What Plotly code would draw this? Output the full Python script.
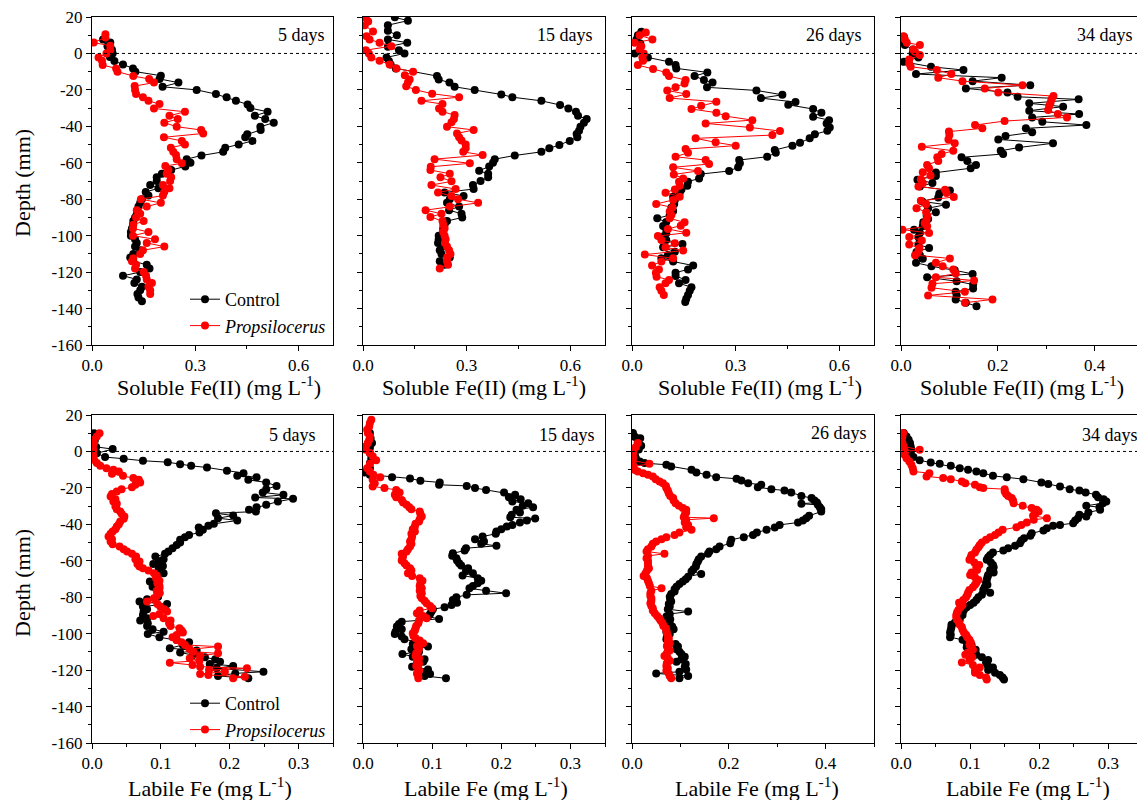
import plotly.graph_objects as go

FONT = "Liberation Serif"
W, H = 1137, 800

# ---------------- data: soluble Fe(II) (top row) ----------------
sol5_ctrl_depth = [7.7, 6, 4, 2, 0, -2, -4.2, -6, -8.2, -10, -12.2, -14, -16, -18.3, -20, -22.3, -24.1, -26, -28, -30, -32, -34.2, -36, -38, -40.2, -42, -44.4, -46, -48, -50, -51.7, -54, -56, -58, -60, -62, -64, -66, -68, -70, -72.2, -74, -76, -78, -80, -82, -84, -86, -88, -90, -92, -94, -96, -98, -100, -102, -104, -106, -108, -110, -112, -114, -116, -118, -120, -122, -124, -126, -128, -130, -132, -134, -136]
sol5_ctrl = [0.032, 0.053, 0.045, 0.058, 0.06, 0.052, 0.065, 0.09, 0.119, 0.126, 0.2, 0.196, 0.251, 0.205, 0.304, 0.36, 0.391, 0.418, 0.452, 0.46, 0.51, 0.473, 0.503, 0.528, 0.489, 0.49, 0.451, 0.445, 0.466, 0.426, 0.387, 0.381, 0.318, 0.275, 0.286, 0.271, 0.23, 0.203, 0.188, 0.188, 0.169, 0.193, 0.156, 0.164, 0.145, 0.14, 0.135, 0.132, 0.13, 0.125, 0.12, 0.119, 0.116, 0.113, 0.113, 0.125, 0.13, 0.125, 0.14, 0.12, 0.111, 0.12, 0.159, 0.167, 0.14, 0.09, 0.13, 0.123, 0.145, 0.14, 0.132, 0.135, 0.145]
sol5_prop_depth = [10.6, 8.8, 6, 4.2, 1.8, 0, -2.2, -4, -6.4, -8.2, -10, -12.4, -14, -16, -17.9, -20, -22.3, -24, -26, -27.8, -30.2, -32, -34.2, -36, -38, -40.2, -42, -43.9, -46, -48, -50, -51.7, -54, -55.8, -58, -60.3, -61.8, -64, -66, -68, -70, -72.2, -74, -76, -78, -80, -82, -84, -86, -88, -90, -92, -94, -96, -98, -100, -102, -104, -106, -108, -110, -112.4, -114, -116, -118, -120, -122, -124, -126, -128, -130, -132]
sol5_prop = [0.039, 0.039, 0.005, 0.053, 0.053, 0.042, 0.019, 0.029, 0.031, 0.07, 0.074, 0.12, 0.166, 0.18, 0.124, 0.125, 0.128, 0.148, 0.164, 0.196, 0.18, 0.27, 0.225, 0.249, 0.21, 0.246, 0.317, 0.323, 0.209, 0.261, 0.27, 0.229, 0.236, 0.244, 0.246, 0.261, 0.213, 0.222, 0.217, 0.23, 0.227, 0.206, 0.225, 0.21, 0.206, 0.142, 0.2, 0.159, 0.13, 0.14, 0.128, 0.15, 0.12, 0.119, 0.164, 0.119, 0.183, 0.159, 0.21, 0.148, 0.14, 0.12, 0.116, 0.128, 0.125, 0.15, 0.157, 0.159, 0.174, 0.164, 0.169, 0.169]

sol15_ctrl_depth = [19.8, 18, 15.5, 12.4, 10, 7.7, 5.9, 3.7, 1.8, 0, -2.2, -4.2, -6, -8.2, -12.4, -14.3, -16, -18.3, -20, -22.5, -24, -26, -28.3, -30.2, -32, -34.2, -36, -38, -40.2, -42.4, -44.2, -46, -48, -50.3, -52, -54, -56, -58, -60, -62, -64.4, -66, -68, -70, -72.2, -74.4, -76.3, -78.2, -80, -82, -84, -86, -88, -90, -92, -94, -96, -98, -100, -102, -104, -106, -108, -110, -112, -114, -116]
sol15_ctrl = [0.092, 0.13, 0.072, 0.072, 0.098, 0.072, 0.128, 0.072, 0.104, 0.12, 0.068, 0.075, 0.08, 0.095, 0.214, 0.219, 0.25, 0.265, 0.323, 0.4, 0.432, 0.516, 0.57, 0.594, 0.616, 0.622, 0.647, 0.639, 0.629, 0.625, 0.618, 0.62, 0.598, 0.568, 0.539, 0.516, 0.439, 0.381, 0.376, 0.365, 0.336, 0.362, 0.362, 0.34, 0.318, 0.32, 0.236, 0.291, 0.251, 0.243, 0.278, 0.249, 0.285, 0.287, 0.243, 0.236, 0.232, 0.232, 0.219, 0.219, 0.217, 0.232, 0.222, 0.227, 0.251, 0.222, 0.236]
sol15_prop_depth = [19.7, 17.5, 15.5, 12, 9.5, 7.7, 5.9, 4, 1.8, 0, -2.2, -4, -6, -8.2, -10, -11.9, -14.3, -16, -18, -20, -22.1, -24, -26, -27.8, -30.2, -32, -33.8, -36, -37.8, -40.2, -42, -43.9, -46, -47.8, -50, -52, -54, -55.8, -58, -60.3, -62.2, -64, -66, -68, -70.2, -72.2, -74.4, -76.3, -78.2, -80, -82, -84, -86, -88, -89.7, -92, -94, -96, -98, -100, -102, -104, -106, -108, -110, -112, -114, -116, -118]
sol15_prop = [0.008, 0.015, 0.005, 0.029, 0.01, 0.019, 0.048, 0.082, 0.008, 0.017, 0.024, 0.048, 0.077, 0.097, 0.145, 0.121, 0.135, 0.13, 0.125, 0.153, 0.2, 0.278, 0.169, 0.23, 0.22, 0.23, 0.265, 0.263, 0.256, 0.243, 0.32, 0.272, 0.278, 0.285, 0.297, 0.297, 0.29, 0.346, 0.207, 0.309, 0.196, 0.195, 0.251, 0.224, 0.256, 0.198, 0.268, 0.217, 0.256, 0.275, 0.333, 0.251, 0.181, 0.227, 0.195, 0.23, 0.232, 0.236, 0.232, 0.236, 0.239, 0.237, 0.243, 0.249, 0.253, 0.243, 0.243, 0.246, 0.222]

sol26_ctrl_depth = [11.9, 10, 7.7, 5.5, 0, -2.2, -4.6, -6.4, -8.2, -10.4, -12.4, -14.6, -16, -18.6, -20.3, -22.7, -24.5, -26.7, -28.2, -30.5, -32.5, -34.7, -36.6, -38.4, -40.6, -42.4, -44.4, -46.6, -49, -50.6, -53, -54.5, -56.7, -58.5, -60.3, -62.5, -64.5, -66.2, -68.6, -70.4, -72.6, -74.6, -76.4, -78.6, -80.4, -82.6, -84.5, -86.5, -88.7, -90.5, -92.5, -94.7, -96.5, -98.7, -100.5, -102.4, -104.6, -106.4, -108.8, -110.6, -112.4, -114.2, -116.4, -118.5, -120.3, -122.1, -124.3, -126.1, -128.3, -130.2, -132.5, -134.6, -136.4]
sol26_ctrl = [0.027, 0.017, 0.013, 0.024, 0.008, 0.046, 0.107, 0.126, 0.128, 0.218, 0.181, 0.208, 0.233, 0.217, 0.36, 0.435, 0.373, 0.473, 0.452, 0.524, 0.548, 0.524, 0.57, 0.563, 0.572, 0.565, 0.529, 0.514, 0.486, 0.464, 0.413, 0.416, 0.391, 0.31, 0.312, 0.307, 0.281, 0.199, 0.194, 0.162, 0.16, 0.143, 0.138, 0.119, 0.124, 0.122, 0.114, 0.119, 0.109, 0.073, 0.099, 0.09, 0.099, 0.099, 0.09, 0.099, 0.146, 0.09, 0.124, 0.104, 0.085, 0.119, 0.177, 0.162, 0.126, 0.126, 0.155, 0.136, 0.172, 0.167, 0.162, 0.157, 0.154]
sol26_prop_depth = [11.5, 10, 7.7, 5.9, 4, 2.2, 0, -2.2, -4, -6.4, -8.5, -10.5, -12.4, -14.6, -16.5, -18.6, -20.3, -22.3, -24.5, -26.5, -28.7, -30.5, -32.5, -34.4, -36.6, -38.4, -40.6, -42.6, -44.8, -46.6, -48.8, -50.6, -52.5, -54.5, -56.7, -58.5, -60.7, -62.5, -64.5, -66.4, -68.6, -70.4, -72.6, -74.6, -76.4, -78.6, -80.4, -82.6, -84.5, -86.8, -88.7, -90.5, -92.7, -94.5, -96.3, -98.4, -100.2, -102.4, -104.2, -106.4, -108.2, -110.4, -112.4, -114.2, -116.4, -118.5, -120.3, -122.5, -124.3, -126.1, -128.3, -130.2, -132.5]
sol26_prop = [0.04, 0.022, 0.059, 0.008, 0.027, 0.022, 0.034, 0.03, 0.032, 0.017, 0.061, 0.099, 0.107, 0.155, 0.152, 0.126, 0.102, 0.157, 0.109, 0.244, 0.2, 0.172, 0.244, 0.271, 0.348, 0.213, 0.341, 0.428, 0.406, 0.184, 0.242, 0.3, 0.155, 0.162, 0.126, 0.213, 0.223, 0.119, 0.191, 0.121, 0.148, 0.136, 0.138, 0.124, 0.097, 0.138, 0.119, 0.07, 0.117, 0.109, 0.114, 0.109, 0.152, 0.141, 0.104, 0.157, 0.075, 0.085, 0.124, 0.097, 0.148, 0.037, 0.119, 0.085, 0.058, 0.078, 0.069, 0.071, 0.107, 0.097, 0.08, 0.085, 0.092]

sol34_ctrl_depth = [9.1, 6.9, 4.6, 2.2, 0, -2.2, -4.6, -7.3, -9.1, -11.3, -13.3, -15.2, -17.4, -19.2, -21.4, -23.8, -25.2, -27.4, -29.2, -31.4, -33.3, -35.1, -37.5, -39.3, -41.1, -43.3, -45.3, -47.2, -49.3, -51.6, -53.4, -55.2, -57, -59, -61.2, -63, -65.4, -67.2, -69.3, -71.1, -73, -75.2, -77, -79, -81.2, -83, -84.9, -87.1, -89.1, -90.9, -92.7, -94.9, -96.7, -98.5, -100.7, -102.6, -104.9, -106.7, -108.9, -110.7, -112.7, -114.9, -116.8, -119, -121, -122.8, -125, -126.8, -129, -130.8, -132.8, -135, -136.8, -138.7]
sol34_ctrl = [0.006, 0.005, 0.008, 0.025, 0.024, 0.036, 0.006, 0.062, 0.129, 0.031, 0.208, 0.148, 0.267, 0.134, 0.22, 0.241, 0.367, 0.265, 0.335, 0.265, 0.368, 0.271, 0.292, 0.383, 0.258, 0.271, 0.216, 0.201, 0.314, 0.244, 0.206, 0.211, 0.125, 0.137, 0.155, 0.144, 0.072, 0.072, 0.034, 0.065, 0.039, 0.101, 0.079, 0.077, 0.044, 0.093, 0.056, 0.072, 0.053, 0.056, 0.046, 0.045, 0.027, 0.039, 0.036, 0.039, 0.036, 0.058, 0.032, 0.039, 0.045, 0.031, 0.063, 0.111, 0.148, 0.054, 0.115, 0.149, 0.149, 0.113, 0.115, 0.113, 0.134, 0.156]
sol34_prop_depth = [9.5, 7.7, 5.9, 4.6, 2.2, 0.9, -0.9, -3.3, -5.5, -7.3, -9.1, -11.3, -13.3, -15.2, -17.4, -19.2, -21.4, -23.4, -25.2, -27, -28.9, -31.1, -33.3, -35.1, -37.1, -39.3, -41.1, -42.9, -44.8, -47.2, -49.3, -51.2, -53.4, -55.2, -57, -59, -61.2, -63, -65.2, -67, -69, -71.1, -73, -74.8, -76.6, -78.8, -80.9, -82.7, -84.9, -87.1, -89.1, -91.3, -93.1, -94.9, -96.7, -98.5, -100.7, -102.6, -104.9, -106.7, -108.5, -110.7, -112.5, -114.9, -116.8, -118.6, -120.8, -122.8, -124.6, -126.4, -128.6, -130.8, -132.8, -135, -136.8]
sol34_prop = [0.005, 0.008, 0.012, 0.039, 0.025, 0.029, 0.039, 0.017, 0.017, 0.02, 0.074, 0.104, 0.077, 0.127, 0.251, 0.173, 0.201, 0.315, 0.311, 0.309, 0.306, 0.304, 0.324, 0.343, 0.214, 0.153, 0.168, 0.099, 0.1, 0.098, 0.111, 0.043, 0.108, 0.084, 0.075, 0.077, 0.054, 0.058, 0.045, 0.061, 0.041, 0.045, 0.036, 0.091, 0.094, 0.109, 0.041, 0.052, 0.032, 0.052, 0.054, 0.053, 0.049, 0.054, 0.003, 0.058, 0.017, 0.043, 0.017, 0.038, 0.036, 0.029, 0.101, 0.072, 0.086, 0.108, 0.113, 0.072, 0.151, 0.065, 0.063, 0.132, 0.056, 0.189, 0.132]

# ---------------- data: labile Fe (bottom row) ----------------
lab5_ctrl_depth = [10, 8, 6, 4, 2.5, 1.3, -1, -3.1, -4, -5.1, -5.9, -7, -7.9, -8.8, -10.6, -11.9, -13.4, -14.1, -15.6, -17, -18.9, -20.7, -22.5, -23.8, -25.3, -26, -27.5, -29.3, -30.6, -32, -33, -33.9, -35.2, -36.6, -37.9, -39.7, -40.8, -41.7, -43, -44.5, -45.8, -47.1, -48.5, -50, -51.3, -53.1, -54.9, -56.2, -57.7, -59.1, -60.4, -61.7, -62.8, -64.1, -65.4, -66.8, -68.7, -71.4, -72.7, -74.2, -75.6, -77.5, -79.7, -81.1, -82.4, -83.7, -85.1, -86.6, -87.9, -89.7, -91.6, -92.8, -94.3, -95.8, -97.6, -98.9, -100.2, -102, -103.5, -104.7, -106.2, -108, -109.3, -110.4, -111.7, -113, -114.1, -115.4, -116.6, -117.7, -119, -120.9, -121.8, -123.2, -124.5]
lab5_ctrl = [0.003, 0.002, 0.004, 0.002, 0.006, 0.03, 0.007, 0.019, 0.046, 0.074, 0.11, 0.128, 0.144, 0.167, 0.196, 0.22, 0.211, 0.239, 0.227, 0.253, 0.268, 0.253, 0.248, 0.278, 0.237, 0.292, 0.27, 0.253, 0.239, 0.228, 0.238, 0.18, 0.205, 0.183, 0.211, 0.177, 0.169, 0.155, 0.161, 0.156, 0.141, 0.135, 0.128, 0.128, 0.123, 0.117, 0.111, 0.106, 0.092, 0.104, 0.097, 0.089, 0.103, 0.097, 0.1, 0.104, 0.094, 0.084, 0.094, 0.088, 0.094, 0.098, 0.096, 0.08, 0.069, 0.109, 0.074, 0.08, 0.075, 0.074, 0.08, 0.07, 0.081, 0.08, 0.088, 0.104, 0.081, 0.098, 0.123, 0.141, 0.132, 0.113, 0.152, 0.128, 0.147, 0.164, 0.179, 0.186, 0.171, 0.205, 0.181, 0.249, 0.208, 0.183, 0.227]
lab5_prop_depth = [10, 8.2, 6.4, 4.6, 2.7, 0.9, -0.9, -2.7, -4.6, -6.4, -7.9, -9.2, -10.1, -11, -12.3, -13.4, -14.6, -15.6, -17, -18.3, -19.6, -20.7, -22, -23.4, -24.7, -26.2, -27.5, -28.7, -30.2, -31.7, -33, -34.2, -35.7, -37, -38.5, -39.9, -41.2, -42.7, -43.9, -45.2, -46.7, -48.2, -49.4, -50.9, -52.2, -53.7, -54.9, -56.2, -57.7, -59.1, -60.4, -61.7, -63.2, -64.1, -65.4, -66.8, -68.1, -69.6, -70.9, -72.3, -73.8, -75.1, -76.4, -77.8, -79.3, -80.6, -82.4, -83.7, -85.1, -86.6, -87.9, -89.2, -90.3, -91.6, -92.8, -94.3, -95.8, -97, -98.3, -99.4, -100.7, -102, -103.5, -104.7, -106.2, -107.1, -108.6, -109.9, -110.8, -112.2, -113.5, -114.8, -115.9, -117.2, -118.1, -119, -120, -120.9, -122.1, -122.7, -123.6, -124.5]
lab5_prop = [0.011, 0.007, 0.002, 0.003, 0.001, 0.002, 0.001, 0.002, 0.003, 0.007, 0.012, 0.021, 0.031, 0.039, 0.029, 0.045, 0.06, 0.068, 0.07, 0.063, 0.058, 0.043, 0.036, 0.029, 0.027, 0.034, 0.031, 0.036, 0.034, 0.036, 0.041, 0.043, 0.047, 0.046, 0.041, 0.039, 0.036, 0.034, 0.03, 0.027, 0.024, 0.029, 0.027, 0.03, 0.04, 0.046, 0.051, 0.058, 0.064, 0.063, 0.069, 0.066, 0.069, 0.074, 0.082, 0.09, 0.094, 0.093, 0.098, 0.095, 0.098, 0.098, 0.094, 0.098, 0.094, 0.09, 0.08, 0.095, 0.099, 0.105, 0.109, 0.098, 0.089, 0.104, 0.114, 0.112, 0.114, 0.127, 0.13, 0.132, 0.123, 0.117, 0.123, 0.13, 0.135, 0.183, 0.142, 0.147, 0.183, 0.157, 0.142, 0.156, 0.113, 0.146, 0.157, 0.225, 0.17, 0.193, 0.157, 0.169, 0.222, 0.205]

lab15_ctrl_depth = [10.1, 7.3, 4.6, 2, -0.9, -3.7, -6.4, -9.2, -11.5, -12.8, -14.1, -14.8, -16.1, -17, -18.3, -18.9, -20.1, -21.1, -22.5, -23.8, -25.1, -26.2, -27.5, -28.4, -29.8, -30.6, -32, -33.5, -34.8, -36.1, -36.8, -37.9, -39, -40.3, -41.2, -42.7, -43.9, -45.2, -46.7, -48.2, -49.4, -50.7, -51.8, -53.1, -54.4, -55.9, -57.3, -58.6, -59.9, -61.3, -62.6, -64.1, -65.4, -66.8, -68.1, -69.6, -70.9, -72.3, -73.8, -75.1, -76.4, -77.8, -78.7, -80, -81.5, -83, -84.2, -85.5, -86.6, -87.9, -89.2, -90.6, -91.9, -93.4, -94.7, -96.1, -97.6, -98.9, -100.2, -101.6, -103.1, -104.4, -105.7, -107.1, -108.6, -109.9, -111.2, -112.6, -114.1, -115.4, -116.6, -118.1, -119.6, -120.9, -122.1, -123.2, -124.5]
lab15_ctrl = [0.01, 0.011, 0.013, 0.01, 0.01, 0.012, 0.01, 0.01, 0.002, 0.01, 0.042, 0.068, 0.083, 0.111, 0.11, 0.15, 0.162, 0.178, 0.204, 0.22, 0.211, 0.228, 0.216, 0.239, 0.231, 0.246, 0.222, 0.227, 0.215, 0.213, 0.249, 0.237, 0.227, 0.216, 0.208, 0.2, 0.193, 0.192, 0.173, 0.162, 0.175, 0.171, 0.193, 0.149, 0.147, 0.13, 0.129, 0.135, 0.136, 0.139, 0.142, 0.152, 0.149, 0.159, 0.144, 0.166, 0.171, 0.166, 0.159, 0.154, 0.178, 0.207, 0.15, 0.135, 0.13, 0.136, 0.128, 0.118, 0.101, 0.099, 0.097, 0.094, 0.11, 0.056, 0.052, 0.049, 0.056, 0.047, 0.046, 0.056, 0.06, 0.076, 0.072, 0.094, 0.07, 0.081, 0.057, 0.072, 0.089, 0.087, 0.078, 0.071, 0.094, 0.092, 0.097, 0.089, 0.12]
lab15_prop_depth = [17.4, 15.6, 13.7, 11.9, 10.1, 8.2, 6.4, 4.6, 2.7, 0.9, -0.9, -2.7, -4.9, -6.8, -9.2, -11, -12.8, -14.1, -15.6, -17.4, -19.2, -20.1, -21.1, -22.5, -23.8, -25.1, -26.6, -28, -29.3, -30.6, -31.7, -33, -34.2, -35.7, -37.2, -38.5, -39.7, -41.2, -42.7, -43.9, -45.2, -46.7, -48.2, -49.4, -50.7, -52.2, -53.7, -54.9, -56.2, -57.3, -58.6, -59.9, -61.3, -62.6, -64.1, -65.4, -66.8, -68.3, -69.6, -71, -72.3, -73.8, -75.1, -76.4, -77.8, -79.3, -80.6, -81.9, -83.3, -84.8, -86.1, -87.3, -88.8, -90.3, -91.6, -92.8, -94.3, -95.8, -97, -98.3, -99.8, -101.3, -102.5, -103.8, -105.3, -106.8, -108, -109.3, -110.8, -112.2, -113.5, -114.8, -116.3, -117.7, -119, -120.3, -121.8, -123.2, -124.5]
lab15_prop = [0.012, 0.01, 0.009, 0.006, 0.007, 0.01, 0.009, 0.007, 0.004, 0.004, 0.01, 0.014, 0.019, 0.01, 0.006, 0.01, 0.015, 0.025, 0.014, 0.017, 0.014, 0.031, 0.048, 0.053, 0.046, 0.048, 0.056, 0.058, 0.063, 0.067, 0.07, 0.082, 0.083, 0.085, 0.082, 0.081, 0.076, 0.075, 0.072, 0.075, 0.07, 0.071, 0.07, 0.068, 0.07, 0.068, 0.065, 0.063, 0.056, 0.058, 0.057, 0.056, 0.06, 0.063, 0.068, 0.07, 0.065, 0.071, 0.082, 0.086, 0.083, 0.082, 0.085, 0.082, 0.085, 0.083, 0.085, 0.089, 0.092, 0.097, 0.1, 0.082, 0.078, 0.087, 0.092, 0.081, 0.08, 0.077, 0.076, 0.075, 0.072, 0.073, 0.076, 0.082, 0.087, 0.078, 0.081, 0.08, 0.077, 0.076, 0.081, 0.078, 0.081, 0.077, 0.08, 0.081, 0.078, 0.08, 0.08]

lab26_ctrl_depth = [10.1, 8, 7.3, 5, 3.1, 1, 0, -2, -3.7, -5.5, -6.4, -7.3, -8.2, -10.1, -11.5, -12.8, -14.1, -15, -15.9, -17.4, -18.3, -19.6, -20.7, -21.4, -22.5, -24.4, -25.6, -26.9, -28, -28.7, -29.3, -30.6, -31.7, -33, -35.3, -36.6, -37.9, -39, -40.3, -41.7, -43, -44.5, -45.8, -47.1, -48.5, -50.4, -52.2, -53.7, -54.9, -56.2, -57.7, -59.1, -60.4, -61.7, -63.2, -64.6, -65.9, -67.2, -68.7, -70.1, -71.4, -72.7, -74.2, -75.6, -76.9, -78.2, -79.7, -81.1, -82.4, -83.7, -85.1, -86.6, -87.9, -89.2, -90.6, -92.1, -93.4, -94.7, -96.1, -97.6, -98.9, -100.2, -101.6, -103.1, -104.4, -105.7, -107.1, -108.6, -109.9, -111.2, -112.6, -114.1, -115.4, -116.6, -118.1, -119.6, -120.9, -121.8, -123.2, -124.5]
lab26_ctrl = [0.002, 0.006, 0.017, 0.012, 0.019, 0.014, 0.004, 0.006, 0.008, 0.016, 0.026, 0.071, 0.081, 0.123, 0.133, 0.154, 0.174, 0.216, 0.226, 0.24, 0.267, 0.26, 0.288, 0.315, 0.329, 0.35, 0.371, 0.377, 0.382, 0.35, 0.384, 0.388, 0.391, 0.391, 0.366, 0.36, 0.353, 0.343, 0.305, 0.295, 0.278, 0.258, 0.25, 0.231, 0.205, 0.203, 0.181, 0.174, 0.16, 0.157, 0.143, 0.138, 0.136, 0.133, 0.132, 0.127, 0.123, 0.143, 0.116, 0.111, 0.105, 0.098, 0.092, 0.088, 0.088, 0.081, 0.078, 0.079, 0.081, 0.076, 0.078, 0.074, 0.116, 0.078, 0.071, 0.079, 0.076, 0.078, 0.083, 0.086, 0.071, 0.078, 0.072, 0.071, 0.076, 0.09, 0.095, 0.092, 0.098, 0.102, 0.109, 0.102, 0.092, 0.111, 0.109, 0.112, 0.098, 0.05, 0.116, 0.098]
lab26_prop_depth = [4.6, 2.5, 0.9, -1, -3, -5, -6.8, -8.2, -10.1, -11, -11.9, -12.8, -13.7, -15.2, -16.5, -17.4, -18.9, -20.1, -21.4, -22.9, -24.4, -25.6, -26.9, -28.4, -29.8, -31.1, -32, -33.5, -34.8, -36.1, -36.6, -37.5, -39, -40.3, -41.6, -43, -44.5, -45.8, -47.1, -48.2, -49.4, -50.7, -52.2, -53.7, -54.9, -56.2, -57.3, -58.6, -59.9, -61.3, -62.8, -64.1, -65.4, -66.8, -68.3, -69.6, -70.9, -72.3, -73.8, -75.1, -76.4, -77.8, -79.3, -80.6, -81.9, -83.3, -84.8, -86.1, -87.3, -88.8, -90.3, -91.6, -92.8, -94.3, -95.8, -97, -98.3, -99.8, -101.3, -102.5, -103.8, -105.3, -106.8, -108, -109.3, -110.8, -112.2, -113.5, -114.8, -116.3, -117.7, -119, -120.3, -121.8, -123.2, -124.5]
lab26_prop = [0.012, 0.008, 0.003, 0.002, 0.002, 0.002, 0.036, 0.003, 0.006, 0.012, 0.023, 0.033, 0.043, 0.049, 0.057, 0.064, 0.07, 0.071, 0.074, 0.076, 0.079, 0.085, 0.086, 0.09, 0.097, 0.105, 0.112, 0.112, 0.109, 0.107, 0.169, 0.112, 0.109, 0.116, 0.112, 0.123, 0.098, 0.088, 0.071, 0.061, 0.05, 0.043, 0.04, 0.033, 0.03, 0.067, 0.033, 0.03, 0.033, 0.033, 0.033, 0.035, 0.031, 0.028, 0.024, 0.031, 0.033, 0.035, 0.037, 0.061, 0.04, 0.038, 0.038, 0.04, 0.04, 0.038, 0.04, 0.043, 0.043, 0.047, 0.052, 0.056, 0.059, 0.063, 0.065, 0.07, 0.071, 0.072, 0.074, 0.076, 0.074, 0.078, 0.072, 0.074, 0.078, 0.072, 0.067, 0.074, 0.078, 0.072, 0.071, 0.074, 0.071, 0.076, 0.078, 0.081]

lab34_ctrl_depth = [10.1, 8.2, 6.4, 4.6, 2.7, 0.9, -1.3, -3.1, -4.9, -6, -6.8, -7.9, -9.2, -10.1, -11, -11.9, -13.4, -14.1, -15.2, -17, -17.8, -19.2, -20.7, -21.4, -22.5, -23.8, -25.1, -26.2, -27.5, -28.4, -29.8, -30.6, -32, -33.5, -34.8, -35.7, -36.6, -37.9, -39.4, -40.3, -40.8, -42.1, -43.4, -44.9, -46.3, -47.6, -48.9, -50.4, -51.8, -53.1, -54.4, -55.5, -56.8, -58, -59.5, -61, -62.3, -63.5, -65, -66.5, -67.8, -69, -70.5, -72, -73.2, -74.5, -76, -77.5, -78.7, -80, -81.5, -83, -84.2, -85.5, -87, -88.4, -89.7, -91, -92.4, -93.9, -95.1, -96.4, -97.8, -99.3, -100.6, -101.9, -103.4, -104.8, -106.1, -107.4, -108.8, -110.3, -111.6, -112.9, -114.4, -115.8, -117.2, -118.5, -119.9, -121.4, -122.7, -124, -125.1]
lab34_ctrl = [0.004, 0.008, 0.011, 0.013, 0.014, 0.015, 0.014, 0.018, 0.027, 0.043, 0.056, 0.072, 0.085, 0.097, 0.109, 0.119, 0.133, 0.153, 0.177, 0.203, 0.213, 0.23, 0.244, 0.258, 0.267, 0.282, 0.285, 0.293, 0.297, 0.292, 0.268, 0.287, 0.288, 0.271, 0.258, 0.268, 0.256, 0.252, 0.249, 0.23, 0.22, 0.211, 0.206, 0.189, 0.187, 0.178, 0.174, 0.172, 0.165, 0.155, 0.148, 0.133, 0.129, 0.126, 0.124, 0.13, 0.133, 0.134, 0.129, 0.134, 0.126, 0.125, 0.124, 0.123, 0.125, 0.121, 0.119, 0.129, 0.117, 0.112, 0.109, 0.105, 0.1, 0.095, 0.091, 0.089, 0.089, 0.084, 0.085, 0.078, 0.073, 0.073, 0.072, 0.071, 0.072, 0.071, 0.089, 0.095, 0.102, 0.095, 0.108, 0.102, 0.109, 0.117, 0.126, 0.123, 0.125, 0.133, 0.126, 0.136, 0.143, 0.147, 0.149]
lab34_prop_depth = [10.1, 8.2, 6.4, 4.6, 2.7, 0.9, 0, -1.8, -3.7, -5.5, -7.3, -9.2, -11, -11.9, -13.7, -14.6, -15.2, -16.5, -17.4, -18.3, -19.6, -20.1, -20.7, -22, -23.3, -24.4, -25.6, -26.9, -28.4, -29.8, -31.1, -32, -33, -34.2, -35.3, -36.6, -37.5, -39, -40.3, -41.6, -43, -44.5, -45.8, -47.1, -48.5, -50, -51.3, -52.6, -54, -55.5, -56.8, -58, -59.5, -61, -62.3, -63.5, -65, -66.5, -67.8, -69, -70.5, -72, -73.2, -74.5, -76, -77.5, -78.7, -80, -81.5, -83, -84.2, -85.5, -87, -88.4, -89.7, -91, -92.4, -93.9, -95.1, -96.4, -97.8, -99.3, -100.6, -101.9, -103.4, -104.8, -106.1, -107.4, -108.8, -110.3, -111.6, -112.9, -114.4, -115.8, -117.2, -118.5, -119.9, -121.4, -122.7, -124, -125.1]
lab34_prop = [0.003, 0.002, 0.001, 0.002, 0.004, 0.027, 0.006, 0.005, 0.008, 0.012, 0.015, 0.017, 0.018, 0.041, 0.037, 0.061, 0.072, 0.088, 0.093, 0.107, 0.114, 0.119, 0.15, 0.15, 0.152, 0.155, 0.16, 0.162, 0.163, 0.176, 0.189, 0.196, 0.199, 0.194, 0.191, 0.211, 0.192, 0.182, 0.174, 0.167, 0.147, 0.141, 0.136, 0.129, 0.123, 0.117, 0.114, 0.112, 0.109, 0.107, 0.102, 0.101, 0.099, 0.106, 0.113, 0.109, 0.11, 0.102, 0.1, 0.107, 0.112, 0.109, 0.107, 0.104, 0.099, 0.097, 0.096, 0.094, 0.09, 0.084, 0.089, 0.086, 0.083, 0.081, 0.08, 0.08, 0.081, 0.084, 0.085, 0.088, 0.089, 0.091, 0.094, 0.096, 0.099, 0.101, 0.099, 0.102, 0.104, 0.097, 0.093, 0.103, 0.099, 0.088, 0.104, 0.114, 0.107, 0.107, 0.114, 0.123, 0.124]

# ---------------- labels / ticks ----------------
day_labels = ["5 days", "15 days", "26 days", "34 days"]
series_names = ["Control", "<i>Propsilocerus</i>"]
series_colors = ["#000000", "#FF0000"]
depth_ticks = [20, 0, -20, -40, -60, -80, -100, -120, -140, -160]
depth_ticktext = ["20", "0", "-20", "-40", "-60", "-80", "-100", "-120", "-140", "-160"]
sol_title = "Soluble Fe(II) (mg L<sup>-1</sup>)"
lab_title = "Labile Fe (mg L<sup>-1</sup>)"
x_full_max = [[0.7, 0.7, 0.7, 0.5], [0.35, 0.35, 0.5, 0.35]]
x_major = [[[0, 0.3, 0.6], [0, 0.3, 0.6], [0, 0.3, 0.6], [0, 0.2, 0.4]],
           [[0, 0.1, 0.2, 0.3], [0, 0.1, 0.2, 0.3], [0, 0.2, 0.4], [0, 0.1, 0.2, 0.3]]]
x_minor = [[0.15, 0.15, 0.15, 0.1], [0.05, 0.05, 0.1, 0.05]]

data = [
    [(sol5_ctrl_depth, sol5_ctrl, sol5_prop_depth, sol5_prop),
     (sol15_ctrl_depth, sol15_ctrl, sol15_prop_depth, sol15_prop),
     (sol26_ctrl_depth, sol26_ctrl, sol26_prop_depth, sol26_prop),
     (sol34_ctrl_depth, sol34_ctrl, sol34_prop_depth, sol34_prop)],
    [(lab5_ctrl_depth, lab5_ctrl, lab5_prop_depth, lab5_prop),
     (lab15_ctrl_depth, lab15_ctrl, lab15_prop_depth, lab15_prop),
     (lab26_ctrl_depth, lab26_ctrl, lab26_prop_depth, lab26_prop),
     (lab34_ctrl_depth, lab34_ctrl, lab34_prop_depth, lab34_prop)],
]

# ---------------- layout geometry (pixels) ----------------
col_px = [(92, 333), (363, 605), (632, 874), (901, 1143)]
row_px = [(17, 345), (415, 743)]
day_pos = [[(327, 35), (595, 35), (864, 35), (1135, 35)],
           [(318, 435), (597, 435), (869, 433), (1140, 435)]]
xtitle_pos = [[(219, 386), (484, 386), (760, 386), (1022, 386)],
              [(210, 787), (486, 787), (757, 787), (1028, 787)]]
ytitle_pos = [(22, 183), (22, 583)]

fig = go.Figure()
layout = dict(width=W, height=H, margin=dict(l=0, r=0, t=0, b=0, pad=0, autoexpand=False),
              plot_bgcolor="white", paper_bgcolor="white",
              font=dict(family=FONT, color="black"), showlegend=True)
shapes = []
annotations = []

tickfont = dict(family=FONT, size=17, color="black")
for r in range(2):
    for c in range(4):
        n = r * 4 + c + 1
        xs = "" if n == 1 else str(n)
        left, right = col_px[c]
        vis_right = min(right, W)
        xmax = x_full_max[r][c] * (vis_right - left) / (right - left)
        top, bot = row_px[r]
        layout["xaxis" + xs] = dict(
            domain=[left / W, vis_right / W], range=[0, xmax], anchor="y" + xs,
            showline=True, linecolor="black", linewidth=1, mirror=True,
            ticks="outside", ticklen=5, tickwidth=1, tickcolor="black",
            tickmode="array", tickvals=x_major[r][c],
            ticktext=["%.1f" % v for v in x_major[r][c]],
            minor=dict(tickmode="linear", tick0=0, dtick=x_minor[r][c], ticks="outside",
                       ticklen=3, tickcolor="black", showgrid=False),
            showgrid=False, zeroline=False, tickfont=tickfont, automargin=False)
        layout["yaxis" + xs] = dict(
            domain=[1 - bot / H, 1 - top / H], range=[-160, 20], anchor="x" + xs,
            showline=True, linecolor="black", linewidth=1, mirror=(c != 3),
            ticks="outside", ticklen=5, tickwidth=1, tickcolor="black",
            tickmode="array", tickvals=depth_ticks, ticktext=depth_ticktext,
            showticklabels=(c == 0),
            minor=dict(tickmode="linear", tick0=0, dtick=10, ticks="outside",
                       ticklen=3, tickcolor="black", showgrid=False),
            showgrid=False, zeroline=False, tickfont=tickfont, automargin=False)

        cd, cv, pd_, pv = data[r][c]
        for k, (dd, vv) in enumerate([(cd, cv), (pd_, pv)]):
            fig.add_trace(go.Scatter(
                x=vv, y=dd, mode="lines+markers", name=series_names[k],
                xaxis="x" + xs, yaxis="y" + xs,
                line=dict(color=series_colors[k], width=1),
                marker=dict(color=series_colors[k], size=8),
                cliponaxis=True,
                showlegend=(c == 0), legend=("legend" if r == 0 else "legend2")))

        shapes.append(dict(type="line", xref="x" + xs + " domain", yref="y" + xs,
                           x0=0, x1=1, y0=0, y1=0,
                           line=dict(color="black", width=1, dash="dot")))
        dx, dy = day_pos[r][c]
        annotations.append(dict(text=day_labels[c], xref="paper", yref="paper",
                                x=dx / W, y=1 - dy / H, xanchor="right", yanchor="middle",
                                showarrow=False, font=dict(family=FONT, size=18, color="black")))
        tx, ty = xtitle_pos[r][c]
        annotations.append(dict(text=(sol_title if r == 0 else lab_title), xref="paper", yref="paper",
                                x=tx / W, y=1 - ty / H, xanchor="center", yanchor="middle",
                                showarrow=False, font=dict(family=FONT, size=22, color="black")))
    yx, yy = ytitle_pos[r]
    annotations.append(dict(text="Depth (mm)", xref="paper", yref="paper", textangle=-90,
                            x=yx / W, y=1 - yy / H, xanchor="center", yanchor="middle",
                            showarrow=False, font=dict(family=FONT, size=22, color="black")))

legend_style = dict(xanchor="left", yanchor="top", bgcolor="rgba(0,0,0,0)",
                    font=dict(family=FONT, size=18, color="black"),
                    tracegroupgap=0, itemwidth=30)
layout["legend"] = dict(x=185 / W, y=1 - 281 / H, **legend_style)
layout["legend2"] = dict(x=185 / W, y=1 - 685 / H, **legend_style)
layout["shapes"] = shapes
layout["annotations"] = annotations
fig.update_layout(**layout)
fig.write_html("out.html",
               config={"displayModeBar": False, "staticPlot": False},
               post_script="document.body.style.margin='0';document.body.style.overflow='hidden';")
